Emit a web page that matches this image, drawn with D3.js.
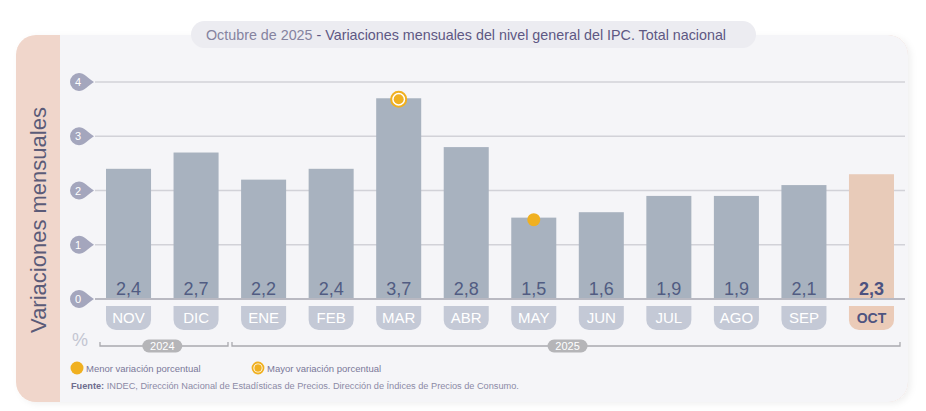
<!DOCTYPE html>
<html><head><meta charset="utf-8">
<script src="https://cdn.jsdelivr.net/npm/d3@7"></script>
<style>body{margin:0;background:#fff;}svg{display:block;font-family:"Liberation Sans",Arial,sans-serif;}</style>
</head><body>
<svg id="c" width="926" height="411"></svg>
<script>
const months = ["NOV","DIC","ENE","FEB","MAR","ABR","MAY","JUN","JUL","AGO","SEP","OCT"];
const values = [2.4,2.7,2.2,2.4,3.7,2.8,1.5,1.6,1.9,1.9,2.1,2.3];
const valueLabels = ["2,4","2,7","2,2","2,4","3,7","2,8","1,5","1,6","1,9","1,9","2,1","2,3"];
const yTicks = [0,1,2,3,4];
const years = [{label:"2024", from:"NOV", to:"DIC"},{label:"2025", from:"ENE", to:"OCT"}];
const maxMonth = "MAR", minMonth = "MAY", currentMonth = "OCT";
const titleLight = "Octubre de 2025";
const titleMain = " - Variaciones mensuales del nivel general del IPC. Total nacional";
const yTitle = "Variaciones mensuales";
const legendItems = ["Menor variación porcentual","Mayor variación porcentual"];
const sourceBold = "Fuente:";
const sourceText = " INDEC, Dirección Nacional de Estadísticas de Precios. Dirección de Índices de Precios de Consumo.";

const svg = d3.select("#c");
const defs = svg.append("defs");
const f = defs.append("filter").attr("id","sh").attr("x","-5%").attr("y","-5%").attr("width","110%").attr("height","115%");
f.append("feDropShadow").attr("dx",3).attr("dy",2).attr("stdDeviation",3).attr("flood-color","#000").attr("flood-opacity",0.06);

// card
const cx0=16, cy0=35, cx1=908, cy1=402, r=20, sx=60;
svg.append("rect").attr("x",cx0).attr("y",cy0).attr("width",cx1-cx0).attr("height",cy1-cy0).attr("rx",r).attr("fill","#f0d6cb").attr("filter","url(#sh)");
svg.append("path").attr("d",`M${sx},${cy0} H${cx1-r} A${r},${r} 0 0 1 ${cx1},${cy0+r} V${cy1-r} A${r},${r} 0 0 1 ${cx1-r},${cy1} H${sx} Z`).attr("fill","#f5f5f8");

// title pill
svg.append("rect").attr("x",191).attr("y",21).attr("width",565).attr("height",27).attr("rx",13.5).attr("fill","#ececf1");
const tt = svg.append("text").attr("x",206).attr("y",40).attr("font-size",14.3);
tt.append("tspan").attr("fill","#85839f").text(titleLight);
tt.append("tspan").attr("fill","#5e5883").text(titleMain);

// y title
svg.append("text").attr("transform","translate(46,220) rotate(-90)").attr("text-anchor","middle")
  .attr("font-size",22).attr("fill","#5b5b78").text(yTitle);

const x = d3.scaleBand().domain(months).range([95,905]).paddingInner(1/3).paddingOuter(0.163);
const y = d3.scaleLinear().domain([0,4]).range([299,82]);
const bw = x.bandwidth();

// grid
const g = svg.append("g");
g.selectAll("line.grid").data(yTicks).join("line")
  .attr("x1",95).attr("x2",905).attr("y1",d=>y(d)).attr("y2",d=>y(d))
  .attr("stroke",d=>d===0?"#b9b9c2":"#d2d2d8").attr("stroke-width",d=>d===0?2:1.5);

// tick badges
const tk = g.selectAll("g.tk").data(yTicks).join("g").attr("transform",d=>`translate(79,${y(d)})`);
tk.append("path").attr("d","M0,-9 A9,9 0 1 0 0,9 C5,9 9,4 15,0 C9,-4 5,-9 0,-9 Z").attr("fill","#a4a6bd");
tk.append("text").attr("x",-1).attr("y",4).attr("text-anchor","middle").attr("font-size",11).attr("fill","#fff").text(d=>d);

// bars
const bars = g.selectAll("g.bar").data(months.map((m,i)=>({m,v:values[i],l:valueLabels[i]}))).join("g");
bars.append("rect").attr("x",d=>x(d.m)).attr("width",bw).attr("y",d=>y(d.v)).attr("height",d=>y(0)-y(d.v)-1)
  .attr("fill",d=>d.m===currentMonth?"#e8cbb9":"#a8b2bf");
bars.append("text").attr("x",d=>x(d.m)+bw/2).attr("y",295).attr("text-anchor","middle")
  .attr("font-size",18).attr("font-weight",d=>d.m===currentMonth?"bold":"normal")
  .attr("fill",d=>d.m===currentMonth?"#4c5280":"#515c82").text(d=>d.l);

// month pills
const py0=306, py1=330, pr=10;
bars.append("path").attr("d",d=>{const a=x(d.m), b=a+bw; return `M${a},${py0} H${b} V${py1-pr} A${pr},${pr} 0 0 1 ${b-pr},${py1} H${a+pr} A${pr},${pr} 0 0 1 ${a},${py1-pr} Z`;})
  .attr("fill",d=>d.m===currentMonth?"#ebcbb8":"#c4c9d6");
bars.append("text").attr("x",d=>x(d.m)+bw/2).attr("y",323).attr("text-anchor","middle")
  .attr("font-size",d=>d.m===currentMonth?14:15).attr("font-weight",d=>d.m===currentMonth?"bold":"normal")
  .attr("fill",d=>d.m===currentMonth?"#4f5480":"#fff").text(d=>d.m);

// markers
const orange = "#f0b020";
const iMax = months.indexOf(maxMonth), iMin = months.indexOf(minMonth);
const mx = x(maxMonth)+bw/2, my = y(values[iMax])+1;
g.append("circle").attr("cx",mx).attr("cy",my).attr("r",7.5).attr("fill","#fff").attr("stroke",orange).attr("stroke-width",2);
g.append("circle").attr("cx",mx).attr("cy",my).attr("r",5).attr("fill",orange);
g.append("circle").attr("cx",x(minMonth)+bw/2).attr("cy",y(values[iMin])+2).attr("r",6.5).attr("fill",orange);

// % label
svg.append("text").attr("x",72).attr("y",346).attr("font-size",18).attr("fill","#c3c5d2").text("%");

// year brackets
const by = 346;
years.forEach((yr,i)=>{
  const a = i===0 ? 100 : 232;
  const b = i===0 ? 228 : 900;
  g.append("path").attr("d",`M${a},${by-4} V${by} H${b} V${by-4}`).attr("fill","none").attr("stroke","#a9a9ae").attr("stroke-width",1.3);
  const c = (x(yr.from)+x(yr.to)+bw)/2;
  g.append("rect").attr("x",c-20).attr("y",by-6.5).attr("width",40).attr("height",13).attr("rx",6.5).attr("fill","#b5b5b8");
  g.append("text").attr("x",c).attr("y",by+4).attr("text-anchor","middle").attr("font-size",11).attr("fill","#fff").text(yr.label);
});

// legend
svg.append("circle").attr("cx",77).attr("cy",368).attr("r",6.5).attr("fill",orange);
svg.append("text").attr("x",86).attr("y",371.5).attr("font-size",9.5).attr("fill","#7a7898").text(legendItems[0]);
svg.append("circle").attr("cx",258).attr("cy",368).attr("r",5.5).attr("fill","#fff").attr("stroke",orange).attr("stroke-width",1.8);
svg.append("circle").attr("cx",258).attr("cy",368).attr("r",3.7).attr("fill",orange);
svg.append("text").attr("x",267).attr("y",371.5).attr("font-size",9.5).attr("fill","#7a7898").text(legendItems[1]);

// source
const st = svg.append("text").attr("x",71).attr("y",389).attr("font-size",9.2).attr("fill","#8c8aa6");
st.append("tspan").attr("font-weight","bold").attr("fill","#6f6d8f").text(sourceBold);
st.append("tspan").text(sourceText);
</script>
</body></html>
